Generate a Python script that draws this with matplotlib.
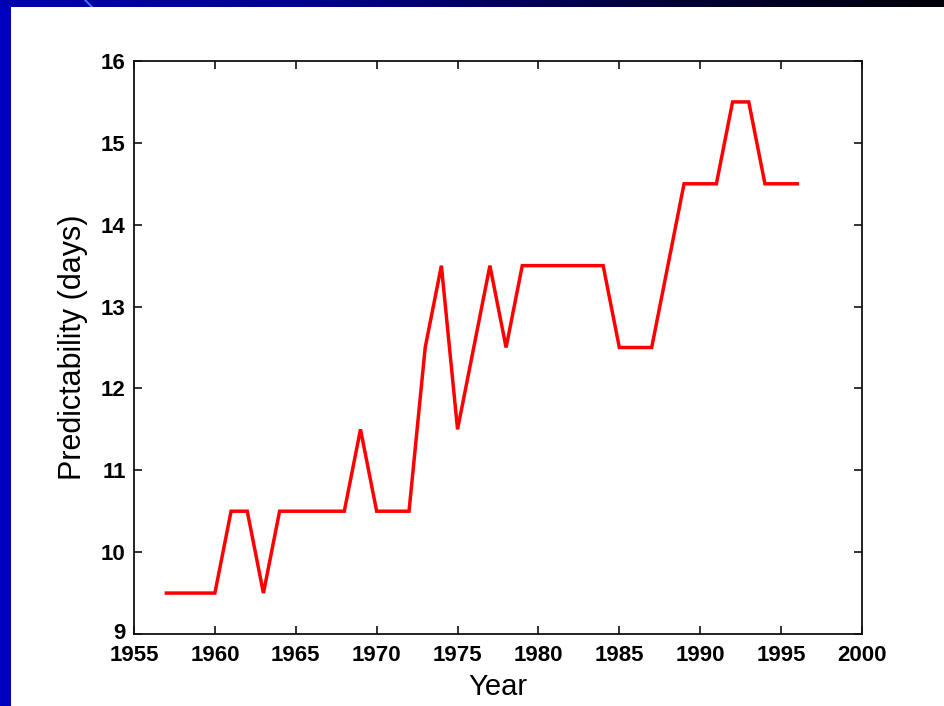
import matplotlib
matplotlib.use("Agg")
import matplotlib.pyplot as plt
import numpy as np
from matplotlib.patches import Rectangle
from matplotlib.colors import LinearSegmentedColormap
import matplotlib.transforms as mtransforms

years = [1957, 1958, 1959, 1960, 1961, 1962, 1963, 1964, 1965, 1966, 1967, 1968,
         1969, 1970, 1971, 1972, 1973, 1974, 1975, 1976, 1977, 1978, 1979, 1980,
         1981, 1982, 1983, 1984, 1985, 1986, 1987, 1988, 1989, 1990, 1991, 1992,
         1993, 1994, 1995, 1996]
predictability = [9.5, 9.5, 9.5, 9.5, 10.5, 10.5, 9.5, 10.5, 10.5, 10.5, 10.5, 10.5,
                  11.5, 10.5, 10.5, 10.5, 12.5, 13.5, 11.5, 12.5, 13.5, 12.5, 13.5, 13.5,
                  13.5, 13.5, 13.5, 13.5, 12.5, 12.5, 12.5, 13.5, 14.5, 14.5, 14.5, 15.5,
                  15.5, 14.5, 14.5, 14.5]
xticks = [1955, 1960, 1965, 1970, 1975, 1980, 1985, 1990, 1995, 2000]
yticks = [9, 10, 11, 12, 13, 14, 15, 16]

plt.rcParams['font.family'] = ['Liberation Sans', 'DejaVu Sans']

W, H = 945, 706
fig = plt.figure(figsize=(W / 100, H / 100), dpi=100, facecolor='white')

# slide background: blue left strip and gradient top bar
fig.patches.append(Rectangle((0, 0), 11 / W, 1, transform=fig.transFigure,
                             facecolor='#0000c0', edgecolor='none', zorder=0))
bg = fig.add_axes([0, 1 - 7 / H, 1, 7 / H], zorder=1)
cmap = LinearSegmentedColormap.from_list('bar', ['#0000b4', '#000090', '#000040', '#000008'])
bg.imshow(np.linspace(0, 1, 256)[None, :], aspect='auto', cmap=cmap,
          extent=[0, 1, 0, 1])
bg.plot([85 / W, 92 / W], [1, 0], color='#4080ff', lw=1.2)
bg.set_xlim(0, 1)
bg.set_ylim(0, 1)
bg.axis('off')

ax = fig.add_axes([134 / W, 1 - 634 / H, (862 - 134) / W, (634 - 61) / H])
ax.plot(years, predictability, color='#ff0000', lw=2.5, solid_joinstyle='miter')
ax.set_xlim(1955, 2000)
ax.set_ylim(9, 16)
ax.set_xticks(xticks)
ax.set_yticks(yticks)
ax.tick_params(direction='in', top=True, right=True, length=6, width=1.2,
               labelsize=16, color='#111111')
ax.tick_params(axis='x', pad=8)
ax.tick_params(axis='y', pad=6)
for lab in ax.get_xticklabels() + ax.get_yticklabels():
    lab.set_fontweight('bold')
# lift the lowest y label slightly, as in the reference, so it clears "1955"
ylabs = ax.get_yticklabels()
ylabs[0].set_transform(ylabs[0].get_transform() +
                       mtransforms.ScaledTranslation(0, 3 / 100, fig.dpi_scale_trans))
for sp in ax.spines.values():
    sp.set_linewidth(1.3)
    sp.set_color('#111111')
ax.set_xlabel('Year', fontsize=21, labelpad=5)
ax.set_ylabel('Predictability (days)', fontsize=22, labelpad=9)

fig.savefig('out.png', dpi=100, facecolor='white')
